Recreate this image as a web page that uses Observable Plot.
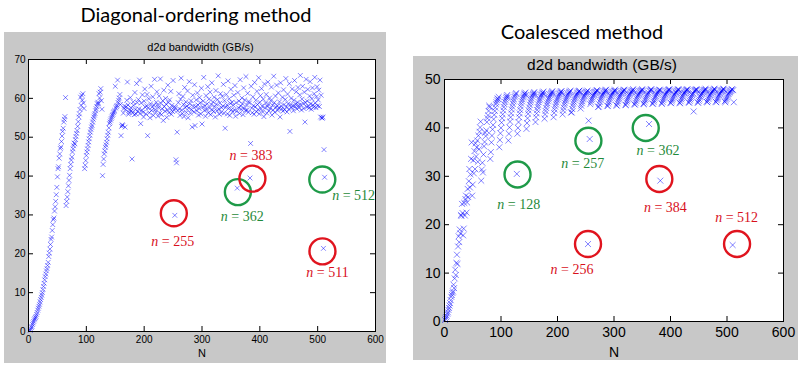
<!DOCTYPE html>
<html><head><meta charset="utf-8">
<script src="https://cdn.jsdelivr.net/npm/d3@7"></script>
<script src="https://cdn.jsdelivr.net/npm/@observablehq/plot@0.6"></script>
<style>
body{margin:0;background:#fff;width:804px;height:367px;position:relative;overflow:hidden}
.title{position:absolute;font-family:Lato,"Open Sans",sans-serif;font-size:20px;line-height:20px;color:#000;white-space:nowrap;transform:translateX(-50%)}
.panel{position:absolute}
.panel svg{display:block}
</style></head><body>
<div class="title" style="left:196px;top:4px">Diagonal-ordering method</div>
<div class="title" style="left:582px;top:21px">Coalesced method</div>
<div class="panel" id="p1" style="left:4px;top:32px"></div>
<div class="panel" id="p2" style="left:413px;top:56px"></div>
<script>
// ---------- data ----------
const xTicks = [0, 100, 200, 300, 400, 500, 600];
const diagYTicks = [0, 10, 20, 30, 40, 50, 60, 70];
const coalYTicks = [0, 10, 20, 30, 40, 50];
const titleText = "d2d bandwidth (GB/s)";
const xLabel = "N";

// Diagonal-ordering: bandwidth for N = 1..512
const diagBW = [
null,null,0.3,0.6,1.0,1.3,1.8,2.2,2.6,3.0,3.3,3.6,3.9,4.4,4.9,5.5,
6.0,6.5,7.0,7.6,8.2,8.8,9.4,10.0,10.8,11.6,12.4,13.3,14.1,14.8,15.6,16.2,
17.0,17.8,19.3,20.2,21.2,22.4,23.7,24.3,26.0,27.5,28.8,29.2,31.0,32.1,33.5,35.2,
37.1,39.8,41.9,42.4,44.6,45.7,47.1,47.5,48.9,50.3,51.5,52.3,53.9,54.6,55.3,60.2,
32.4,33.5,34.6,36.0,37.5,38.9,40.2,41.9,43.0,44.1,44.9,46.2,47.0,47.8,48.5,48.3,
49.4,50.2,51.0,51.7,52.8,54.0,55.2,56.0,57.1,60.3,58.2,60.8,59.5,61.2,58.8,57.4,
41.9,42.8,44.0,45.3,46.2,47.0,47.9,48.8,49.6,50.5,51.3,52.0,52.6,53.1,53.9,54.6,
55.2,55.7,56.1,56.8,57.3,57.9,58.6,59.0,58.6,61.2,60.1,61.6,62.5,59.4,57.2,40.1,
43.0,44.4,45.7,46.5,47.4,48.0,48.7,49.6,50.5,51.3,52.4,53.5,53.9,54.4,54.8,55.2,
55.6,55.9,56.3,56.6,56.9,63.1,57.5,57.9,58.2,64.7,58.9,59.5,60.1,61.0,58.4,50.4,
52.8,53.2,53.0,56.2,57.4,58.0,52.6,57.1,57.8,59.5,64.2,58.3,55.9,56.4,57.0,60.2,
57.6,56.8,44.4,56.3,59.1,58.2,55.8,61.5,57.2,56.0,63.8,58.9,56.6,59.7,57.3,64.7,
56.1,53.5,58.8,57.0,60.9,56.4,55.2,59.3,62.4,57.7,56.0,58.1,61.0,50.4,57.5,59.9,
56.3,55.0,58.6,63.1,56.9,57.8,60.4,55.6,58.2,64.9,57.1,56.5,59.0,61.7,58.3,55.4,
57.6,60.6,56.2,65.0,58.7,55.8,57.3,59.4,54.3,62.1,57.9,56.7,60.0,58.5,55.1,57.0,
63.4,58.9,56.3,59.6,57.4,61.8,55.9,58.2,56.6,64.6,57.7,57.0,29.9,57.7,44.2,43.4,
51.3,56.8,58.9,61.2,57.3,55.6,59.8,65.2,57.0,56.1,60.5,58.4,55.3,62.8,57.6,59.1,
56.4,58.0,61.9,55.0,57.5,64.3,58.6,56.2,59.4,57.1,52.6,60.8,58.0,56.5,63.5,53.0,
57.9,59.6,56.8,61.4,58.3,55.7,57.4,60.2,58.9,56.0,62.6,53.4,57.8,59.3,65.4,56.9,
58.1,55.4,60.7,57.2,58.6,63.0,56.3,59.8,57.5,61.6,55.8,58.4,64.0,57.0,59.1,56.6,
60.3,57.9,55.2,62.0,58.5,56.8,59.7,65.8,57.3,55.9,58.8,61.2,56.4,57.6,60.5,58.0,
63.6,56.2,59.4,52.3,57.7,61.0,58.3,56.0,64.5,57.4,59.9,55.6,58.7,62.3,57.1,59.0,
56.5,58.2,60.8,57.0,63.3,55.4,58.9,56.7,36.9,61.5,57.6,59.3,56.1,64.8,58.0,57.2,
60.1,58.6,55.8,62.7,57.4,59.6,56.9,65.6,58.3,57.0,61.3,56.4,59.2,58.8,39.5,48.4,
63.1,57.5,56.3,60.4,58.1,55.9,64.1,57.8,59.5,56.6,61.8,58.4,57.1,65.3,56.0,59.0,
60.7,57.3,62.5,58.0,56.5,59.8,55.3,63.7,57.6,58.8,61.0,56.2,57.9,64.2,58.5,56.8,
60.1,57.4,59.4,62.9,55.7,58.2,57.0,65.7,58.9,56.4,60.6,57.7,63.4,58.1,56.9,61.4,
57.5,59.1,55.2,64.0,58.0,57.3,60.3,56.7,62.2,58.4,57.1,59.7,65.1,57.8,56.5,61.1,
58.6,57.2,63.8,51.5,58.3,60.0,57.6,62.4,58.1,56.8,59.5,64.6,57.9,58.5,61.7,57.3,
59.0,62.8,58.2,57.6,60.9,65.9,58.4,57.0,59.8,63.1,58.7,57.4,61.6,53.9,58.9,64.9,
57.8,59.3,62.3,58.0,57.5,60.6,64.3,58.6,57.2,59.9,62.7,58.3,57.7,61.2,65.4,58.8,
57.6,60.4,63.0,58.1,59.6,62.1,57.9,64.7,55.2,60.8,55.0,54.9,55.2,21.4,46.8,39.7
];

// Coalesced: bandwidth for N = 1..512
const coalBW = [
0.3,0.6,0.9,1.2,1.6,1.9,2.4,2.8,3.3,3.8,4.4,5.1,5.5,5.9,6.2,7.6,
6.9,8.9,10.7,9.6,12.1,13.8,11.9,15.5,17.6,16.4,19.0,18.2,22.0,21.8,24.3,22.4,
17.8,19.2,24.5,21.9,25.3,26.0,22.5,24.6,27.4,25.7,29.0,31.5,27.7,30.4,33.6,37.0,
26.0,28.3,33.3,30.6,35.2,31.5,36.8,34.1,36.0,37.4,33.0,38.4,35.6,39.2,40.1,41.3,
29.1,31.4,32.8,30.8,34.5,36.2,37.1,39.0,38.3,39.5,41.2,42.0,42.6,43.5,44.6,44.3,
33.6,35.0,37.0,38.4,39.7,40.6,41.8,42.7,43.5,44.2,44.9,45.3,45.7,46.1,45.9,46.4,
36.0,37.5,38.9,40.0,41.1,42.0,42.8,43.6,44.3,44.9,45.4,45.8,46.2,46.5,46.8,46.3,
37.4,38.8,40.1,41.3,42.2,43.0,43.8,44.4,45.0,45.5,45.9,46.4,46.7,47.0,47.2,30.5,
38.8,40.0,41.2,42.2,43.0,43.7,44.4,45.0,45.5,45.9,46.3,46.6,46.9,47.1,47.3,46.8,
39.8,41.0,42.0,42.9,43.6,44.2,44.8,45.3,45.7,46.1,46.5,46.8,47.0,47.2,47.4,46.9,
41.2,42.2,43.0,43.7,44.3,44.8,45.3,45.7,46.0,46.4,46.7,46.9,47.1,47.3,47.5,47.0,
41.9,42.8,43.5,44.1,44.7,45.1,45.5,45.9,46.2,46.5,46.8,47.0,47.2,47.4,47.6,47.1,
42.2,43.1,43.8,44.4,44.9,45.3,45.7,46.0,46.3,46.6,46.9,47.1,47.3,47.5,47.6,47.2,
42.8,43.6,44.2,44.8,45.2,45.6,45.9,46.2,46.5,46.8,47.0,47.2,47.4,47.5,47.7,43.2,
43.2,43.9,44.5,45.0,45.4,45.8,46.1,46.4,46.7,46.9,47.1,47.3,47.5,47.6,47.7,47.3,
44.0,44.6,45.1,45.5,45.9,46.2,46.5,46.7,47.0,47.2,47.4,47.5,47.7,16.0,41.5,47.4,
37.7,44.9,45.3,45.7,46.0,46.3,46.6,46.8,47.0,47.2,47.4,47.5,47.7,47.8,47.6,44.3,
44.4,44.9,45.4,45.8,46.1,46.4,46.7,46.9,47.1,47.3,47.5,47.6,47.8,47.9,47.5,44.6,
44.5,45.0,45.4,45.8,46.1,46.4,46.6,46.9,47.1,47.3,47.4,47.6,47.7,47.9,47.6,44.7,
44.6,45.1,45.5,45.9,46.2,46.5,46.7,47.0,47.2,47.3,47.5,47.6,47.8,47.9,47.7,44.8,
44.7,45.2,45.6,45.9,46.2,46.5,46.8,47.0,47.2,47.4,47.5,47.7,47.8,48.0,47.6,44.9,
44.8,45.2,45.6,46.0,46.3,46.6,46.8,47.0,47.2,47.4,47.6,47.7,47.8,48.0,47.7,45.0,
44.9,45.3,45.7,46.0,46.3,46.6,46.9,47.1,47.3,40.8,47.6,47.7,47.9,48.0,47.7,45.0,
45.0,45.4,45.7,46.1,46.4,46.6,46.9,47.1,47.3,47.5,47.6,47.8,47.9,29.1,47.7,45.1,
45.0,45.4,45.8,46.1,46.4,46.7,46.9,47.1,47.3,47.5,47.6,47.8,47.9,48.0,47.7,45.2,
45.1,45.5,45.8,46.1,46.4,46.7,46.9,47.1,47.3,47.4,47.6,47.7,47.9,48.0,47.8,45.2,
45.1,45.5,45.9,46.2,46.5,46.7,47.0,47.2,47.3,47.5,47.6,47.8,47.9,48.0,47.7,45.3,
45.2,45.6,45.9,46.2,46.5,46.8,47.0,47.2,43.4,47.5,47.7,47.8,47.9,48.0,47.8,45.3,
45.2,45.6,45.9,46.3,46.5,46.8,47.0,47.2,47.4,47.5,47.7,47.8,47.9,48.1,47.8,45.4,
45.3,45.6,46.0,46.3,46.6,46.8,47.0,47.2,47.4,47.5,47.7,47.8,48.0,48.1,47.8,45.4,
45.3,45.7,46.0,46.3,46.6,46.8,47.0,47.2,47.4,47.6,47.7,47.8,48.0,48.1,47.8,45.5,
45.3,45.7,46.0,46.3,46.6,46.9,47.1,47.3,47.4,47.6,47.7,47.9,48.0,15.8,47.8,45.3
];

// circled points (N position of the marked point) and their labels
const diagNoteN = [253, 361, 383, 510, 512];
const diagNoteText = ["n = 255", "n = 362", "n = 383", "n = 511", "n = 512"];
const diagNoteKind = ["bad", "good", "bad", "bad", "good"];
const coalNoteN = [128, 257, 362, 382, 254, 510];
const coalNoteText = ["n = 128", "n = 257", "n = 362", "n = 384", "n = 256", "n = 512"];
const coalNoteKind = ["good", "good", "good", "bad", "bad", "bad"];

// ---------- layout / style ----------
const kindColor = {bad: "#e0141e", good: "#1e9a48"};
const kindText = {bad: "#d8101c", good: "#1f8a3a"};
const diagOffsets = {
  circle: [[-1, -2], [0.6, 4], [2.4, 0.6], [-1, 3], [-2.3, 2.3]],
  label: [[-2, 26], [5, 28], [1, -22], [4, 24], [29, 18]]
};
const coalOffsets = {
  circle: [[0.7, 0.6], [-1.3, 1.7], [-3.3, 4], [-1, -1.7], [0, 0], [4.4, -1]],
  label: [[2, 31], [-7, 24], [9, 26], [5, 27], [-16, 25], [4, -28]]
};

function panel(cfg) {
  const data = cfg.values.map((v, i) => ({N: i + 1, bw: v})).filter(d => d.bw != null);
  const [mt, mr, mb, ml] = cfg.margins;
  const pw = cfg.width - ml - mr, ph = cfg.height - mt - mb;
  const marks = [
    Plot.frame({fill: "white", stroke: null}),
    Plot.dot(data, {x: "N", y: "bw", symbol: "times", r: cfg.r, stroke: "#0000ff", strokeOpacity: 0.55, strokeWidth: 0.9}),
    Plot.tickX(xTicks, {x: d => d, insetBottom: ph - 5, stroke: "#000"}),
    Plot.tickX(xTicks, {x: d => d, insetTop: ph - 5, stroke: "#000"}),
    Plot.tickY(cfg.yTicks, {y: d => d, insetRight: pw - 5, stroke: "#000"}),
    Plot.tickY(cfg.yTicks, {y: d => d, insetLeft: pw - 5, stroke: "#000"}),
    Plot.frame({stroke: "#000"}),
    Plot.axisX(xTicks, {tickSize: 0, tickPadding: cfg.padX, fontSize: cfg.fs, label: null}),
    Plot.axisY(cfg.yTicks, {tickSize: 0, tickPadding: cfg.padY, fontSize: cfg.fs, label: null}),
    Plot.text([titleText], {frameAnchor: "top", lineAnchor: "middle", dx: cfg.titleDx, dy: cfg.titleDy, fontSize: cfg.titleFs}),
    Plot.text([xLabel], {frameAnchor: "bottom", lineAnchor: "middle", dy: cfg.nDy, fontSize: cfg.nFs})
  ];
  cfg.noteN.forEach((n, i) => {
    const d = data.find(p => p.N === n);
    const c = cfg.offsets.circle[i], l = cfg.offsets.label[i];
    marks.push(Plot.dot([d], {x: "N", y: "bw", r: 13, stroke: kindColor[cfg.noteKind[i]], strokeWidth: 2.4, dx: c[0], dy: c[1]}));
    marks.push(Plot.text([d], {x: "N", y: "bw", text: () => cfg.noteText[i], dx: l[0], dy: l[1],
      fill: kindText[cfg.noteKind[i]], fontSize: 14, fontFamily: "'Liberation Serif','DejaVu Serif',serif"}));
  });
  const svg = Plot.plot({
    width: cfg.width, height: cfg.height,
    marginTop: mt, marginRight: mr, marginBottom: mb, marginLeft: ml,
    style: {background: "#c8c8c8", color: "#000", fontFamily: "Arial,'Liberation Sans',sans-serif", overflow: "visible"},
    x: {domain: [0, 600], label: null},
    y: {domain: cfg.yDomain, label: null},
    marks
  });
  for (const t of svg.querySelectorAll("text")) {
    const s = t.textContent;
    if (/^n = \d+$/.test(s)) {
      t.textContent = "";
      const ts = document.createElementNS("http://www.w3.org/2000/svg", "tspan");
      ts.setAttribute("font-style", "italic");
      ts.textContent = "n";
      t.appendChild(ts);
      t.appendChild(document.createTextNode(s.slice(1)));
    }
  }
  return svg;
}

document.getElementById("p1").appendChild(panel({
  values: diagBW, yDomain: [0, 70], yTicks: diagYTicks,
  width: 382, height: 331, margins: [27, 11, 32, 24],
  r: 2.3, fs: 10, titleFs: 11, titleDx: -1.5, titleDy: -12, nDy: 22, nFs: 11, padX: 4, padY: 3,
  noteN: diagNoteN, noteText: diagNoteText, noteKind: diagNoteKind, offsets: diagOffsets
}));
document.getElementById("p2").appendChild(panel({
  values: coalBW, yDomain: [0, 50], yTicks: coalYTicks,
  width: 385, height: 304, margins: [23, 15, 39, 31],
  r: 2.8, fs: 14, titleFs: 15.5, titleDx: -12, titleDy: -14, nDy: 31, nFs: 14, padX: 6, padY: 4,
  noteN: coalNoteN, noteText: coalNoteText, noteKind: coalNoteKind, offsets: coalOffsets
}));
</script>
</body></html>
